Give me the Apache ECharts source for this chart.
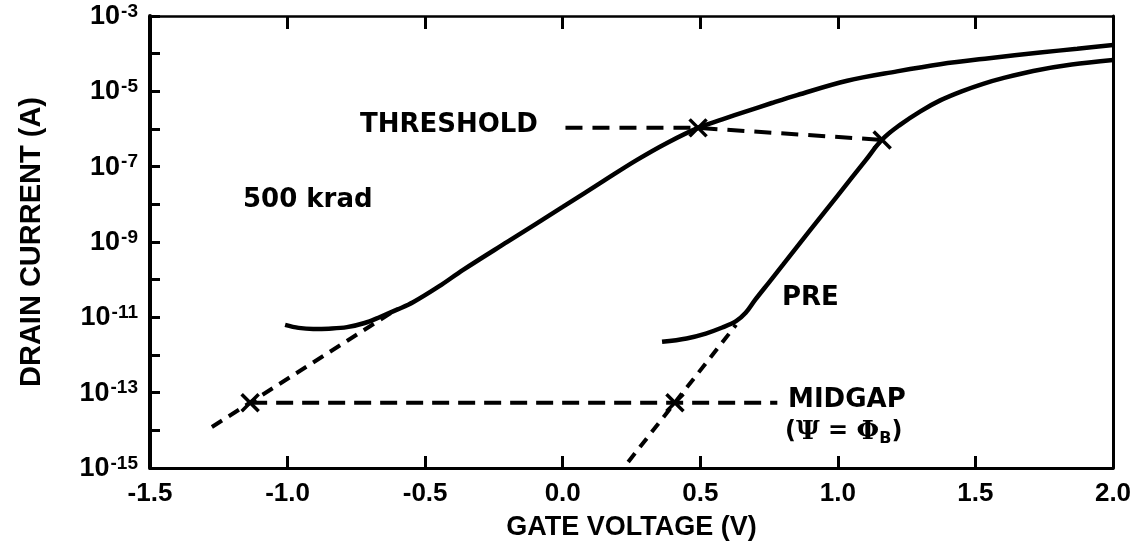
<!DOCTYPE html>
<html>
<head>
<meta charset="utf-8">
<script src="https://cdn.jsdelivr.net/npm/echarts@6/dist/echarts.min.js"></script>
<style>
  html, body { margin: 0; padding: 0; background: #ffffff; }
  #chart { width: 1143px; height: 550px; }
</style>
</head>
<body>
<div id="chart"></div>
<script>
// Drain current vs gate voltage, before irradiation and after 500 krad.
// Currents are stored as log10(I / A); the y axis is laid out in decades.

const xTicks = [-1.5, -1.0, -0.5, 0.0, 0.5, 1.0, 1.5, 2.0];
const yDecades = [-15, -14, -13, -12, -11, -10, -9, -8, -7, -6, -5, -4, -3];

// [gate voltage (V), log10 drain current]
const post500krad = [
  [-1.009, -11.20], [-0.96, -11.28], [-0.907, -11.31], [-0.85, -11.30],
  [-0.784, -11.26], [-0.72, -11.15], [-0.664, -10.99], [-0.60, -10.79],
  [-0.544, -10.60], [-0.45, -10.18], [-0.362, -9.74], [-0.20, -8.99],
  [0.00, -8.07], [0.15, -7.37], [0.27, -6.82], [0.379, -6.37],
  [0.492, -5.97], [0.58, -5.745], [0.67, -5.525], [0.76, -5.31],
  [0.852, -5.10], [1.034, -4.72], [1.215, -4.47], [1.372, -4.28],
  [1.55, -4.12], [1.735, -3.97], [1.87, -3.87], [2.00, -3.77]
];

const preIrrad = [
  [0.361, -11.65], [0.45, -11.56], [0.52, -11.43], [0.58, -11.27],
  [0.63, -11.10], [0.665, -10.88], [0.70, -10.53], [0.75, -10.07],
  [0.80, -9.61], [0.90, -8.68], [1.00, -7.76], [1.10, -6.84],
  [1.161, -6.28], [1.226, -5.89], [1.30, -5.53], [1.372, -5.24],
  [1.45, -5.00], [1.528, -4.80], [1.60, -4.65], [1.71, -4.46],
  [1.85, -4.29], [2.00, -4.17]
];

// threshold points joined by a dashed link, led in from the label
const thresholdLink = [[0.01, -5.97], [0.492, -5.97], [1.161, -6.29]];
// midgap current level
const midgapLevel = [[-1.136, -13.27], [0.78, -13.27]];
// subthreshold extrapolations down to midgap
const postExtrap = [[-1.275, -13.91], [-0.60, -10.77]];
const preExtrap = [[0.238, -14.84], [0.63, -11.20]];
// marked points: midgap (post, pre) and threshold (post, pre)
const crossPoints = [[-1.136, -13.27], [0.408, -13.27], [0.492, -5.97], [1.161, -6.29]];

// text notes: [left edge V, centre log10 I, text]
const notes = [
  [-1.162, -7.88, '500 krad'],
  [-0.737, -5.89, 'THRESHOLD'],
  [0.797, -10.49, 'PRE'],
  [0.819, -13.19, 'MIDGAP'],
  [0.808, -14.04, '{p|(}{g|\u03A8}{p| = }{g|\u03A6}{sub|B}{p|)}']
];

const fontAxis = '"Liberation Sans", Arial, sans-serif';
const fontNote = '"DejaVu Sans", sans-serif';

const chart = echarts.init(document.getElementById('chart'), null, { renderer: 'canvas' });

const solid = (name, data) => ({
  name, type: 'line', data, smooth: 0.35, showSymbol: false, z: 3,
  lineStyle: { color: '#000', width: 4.5 }, animation: false, silent: true
});
const dashed = (name, data, dash) => ({
  name, type: 'line', data, showSymbol: false, z: 2,
  lineStyle: { color: '#000', width: 4, type: dash }, animation: false, silent: true
});

chart.setOption({
  backgroundColor: '#ffffff',
  animation: false,
  grid: { left: 150, right: 30, top: 16, bottom: 82 },
  xAxis: [
    {
      type: 'value', min: xTicks[0], max: xTicks[xTicks.length - 1], interval: 0.5,
      name: 'GATE VOLTAGE (V)', nameLocation: 'middle', nameGap: 46,
      nameTextStyle: { fontFamily: fontAxis, fontWeight: 'bold', fontSize: 27, color: '#000' },
      axisLine: { show: true, onZero: false, lineStyle: { color: '#000', width: 3 } },
      axisTick: { show: true, inside: true, length: 12, lineStyle: { color: '#000', width: 3 } },
      axisLabel: {
        margin: 13, fontFamily: fontAxis, fontWeight: 'bold', fontSize: 26, color: '#000',
        formatter: v => v.toFixed(1)
      },
      splitLine: { show: false }
    },
    {
      type: 'value', position: 'top', min: xTicks[0], max: xTicks[xTicks.length - 1], interval: 0.5,
      axisLine: { show: true, onZero: false, lineStyle: { color: '#000', width: 2.5 } },
      axisTick: { show: true, inside: true, length: 13, lineStyle: { color: '#000', width: 3 } },
      axisLabel: { show: false },
      splitLine: { show: false }
    }
  ],
  yAxis: [
    {
      type: 'value', min: yDecades[0], max: yDecades[yDecades.length - 1], interval: 1,
      name: 'DRAIN CURRENT (A)', nameLocation: 'middle', nameGap: 104, nameRotate: 90,
      nameTextStyle: { fontFamily: fontAxis, fontWeight: 'bold', fontSize: 29, color: '#000' },
      axisLine: { show: true, onZero: false, lineStyle: { color: '#000', width: 4 } },
      axisTick: { show: true, inside: true, length: 10, lineStyle: { color: '#000', width: 3 } },
      axisLabel: {
        margin: 12,
        formatter: v => (v % 2 !== 0 ? '{b|10}{s|' + v + '}' : ''),
        rich: {
          b: { fontFamily: fontAxis, fontWeight: 'bold', fontSize: 27, color: '#000', lineHeight: 28, verticalAlign: 'bottom' },
          s: { fontFamily: fontAxis, fontWeight: 'bold', fontSize: 19, color: '#000', lineHeight: 19, verticalAlign: 'top', padding: [0, 0, 12, 1] }
        }
      },
      splitLine: { show: false }
    },
    {
      type: 'value', position: 'right', min: yDecades[0], max: yDecades[yDecades.length - 1], interval: 1,
      axisLine: { show: true, onZero: false, lineStyle: { color: '#000', width: 3 } },
      axisTick: { show: false },
      axisLabel: { show: false },
      splitLine: { show: false }
    }
  ],
  series: [
    dashed('threshold link', thresholdLink, [17, 10]),
    dashed('midgap level', midgapLevel, [17, 9]),
    dashed('500 krad extrapolation', postExtrap, [12, 8]),
    dashed('pre extrapolation', preExtrap, [11, 8]),
    solid('500 krad', post500krad),
    solid('PRE', preIrrad),
    {
      name: 'marks', type: 'scatter', data: crossPoints, z: 4, silent: true,
      symbol: 'path://M0 0L10 10M10 0L0 10', symbolSize: 17,
      itemStyle: { color: 'rgba(0,0,0,0)', borderColor: '#000', borderWidth: 3.5, opacity: 1 }
    },
    {
      name: 'notes', type: 'scatter', symbolSize: 0, z: 5, silent: true,
      itemStyle: { opacity: 1 },
      data: notes.map(n => ({ value: [n[0], n[1]], text: n[2] })),
      label: {
        show: true, position: 'right', distance: 0,
        formatter: p => p.data.text,
        fontFamily: fontNote, fontWeight: 'bold', fontSize: 26, color: '#000',
        rich: {
          p: { fontFamily: fontNote, fontWeight: 'bold', fontSize: 24, color: '#000', lineHeight: 30 },
          g: { fontFamily: '"DejaVu Serif", serif', fontSize: 26, color: '#000', lineHeight: 30 },
          sub: { fontFamily: fontNote, fontWeight: 'bold', fontSize: 16, color: '#000', lineHeight: 16, verticalAlign: 'bottom', padding: [13, 0, 0, 0] }
        }
      }
    }
  ]
});
</script>
</body>
</html>
